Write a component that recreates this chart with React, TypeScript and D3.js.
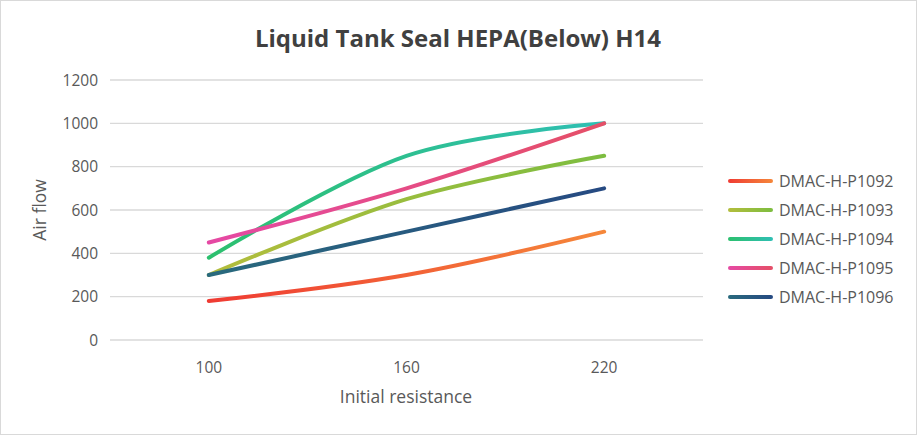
import React from "react";
import * as d3 from "d3";

const categories = ["100", "160", "220"];
const seriesNames = ["DMAC-H-P1092", "DMAC-H-P1093", "DMAC-H-P1094", "DMAC-H-P1095", "DMAC-H-P1096"];
const p1092 = [180, 300, 500];
const p1093 = [300, 650, 850];
const p1094 = [380, 850, 1000];
const p1095 = [450, 700, 1000];
const p1096 = [300, 500, 700];
const yTicks = [0, 200, 400, 600, 800, 1000, 1200];
const colorStart = ["#ef3b33", "#b3bd3c", "#2cc06e", "#e549a4", "#296a7d"];
const colorEnd = ["#f5873a", "#7dbd40", "#2fbfb4", "#e54f67", "#264a82"];

const W = 917, H = 435;
const font = "'Open Sans', 'Liberation Sans', sans-serif";

export default function App() {
  const values = [p1092, p1093, p1094, p1095, p1096];
  const x = d3.scaleBand<string>().domain(categories).range([110, 703]);
  const y = d3.scaleLinear().domain([0, 1200]).range([340, 80]);
  const cx = (c: string) => (x(c) as number) + x.bandwidth() / 2;
  const line = d3
    .line<number>()
    .x((_, i) => cx(categories[i]))
    .y((d) => y(d))
    .curve(d3.curveCardinal.tension(0));

  return (
    <svg width={W} height={H} style={{ position: "absolute", left: 0, top: 0, background: "#fff" }}>
      <defs>
        {values.map((_, i) => (
          <linearGradient
            key={i}
            id={`g${i}`}
            gradientUnits="userSpaceOnUse"
            x1={cx(categories[0])}
            x2={cx(categories[categories.length - 1])}
            y1={0}
            y2={0}
          >
            <stop offset="0" stopColor={colorStart[i]} />
            <stop offset="1" stopColor={colorEnd[i]} />
          </linearGradient>
        ))}
        {values.map((_, i) => (
          <linearGradient key={"l" + i} id={`lg${i}`} x1="0" x2="1" y1="0" y2="0">
            <stop offset="0" stopColor={colorStart[i]} />
            <stop offset="1" stopColor={colorEnd[i]} />
          </linearGradient>
        ))}
      </defs>
      <rect x={0.5} y={0.5} width={W - 1} height={H - 1} fill="#fff" stroke="#d9d9d9" />
      <text x={458} y={47} textAnchor="middle" fontFamily={font} fontWeight={700} fontSize={24} fill="#404040">
        Liquid Tank Seal HEPA(Below) H14
      </text>
      {yTicks.map((t) => (
        <g key={t}>
          <line x1={110} x2={703} y1={y(t)} y2={y(t)} stroke="#d9d9d9" strokeWidth={1.3} />
          <text x={98} y={y(t) + 5.5} textAnchor="end" fontFamily={font} fontSize={15.5} fill="#595959">
            {t}
          </text>
        </g>
      ))}
      {categories.map((c) => (
        <text key={c} x={cx(c)} y={373} textAnchor="middle" fontFamily={font} fontSize={15.5} fill="#595959">
          {c}
        </text>
      ))}
      <text x={406} y={403} textAnchor="middle" fontFamily={font} fontSize={17.5} fill="#595959">
        Initial resistance
      </text>
      <text
        transform={`translate(46,${210}) rotate(-90)`}
        textAnchor="middle"
        fontFamily={font}
        fontSize={17.5}
        fill="#595959"
      >
        Air flow
      </text>
      {values.map((v, i) => (
        <path
          key={i}
          d={line(v) || ""}
          fill="none"
          stroke={`url(#g${i})`}
          strokeWidth={4}
          strokeLinecap="round"
        />
      ))}
      {seriesNames.map((n, i) => (
        <g key={n} transform={`translate(0,${181 + i * 29})`}>
          <rect x={728} y={-2} width={45} height={4} rx={2} fill={`url(#lg${i})`} />
          <text x={779} y={5.5} fontFamily={font} fontSize={16} fill="#595959">
            {n}
          </text>
        </g>
      ))}
    </svg>
  );
}
